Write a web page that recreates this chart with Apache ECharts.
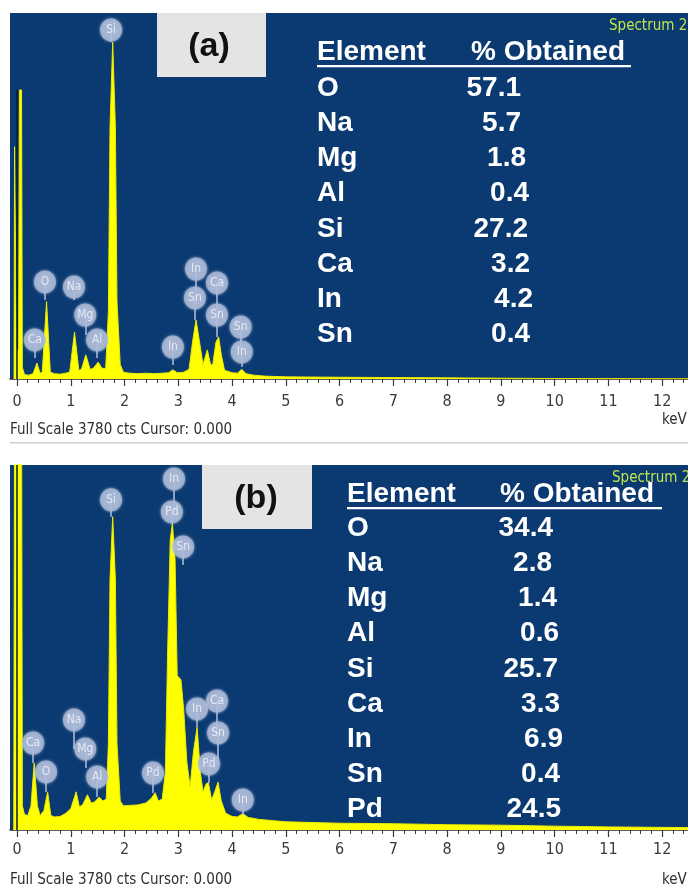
<!DOCTYPE html>
<html><head><meta charset="utf-8">
<script src="https://cdn.jsdelivr.net/npm/echarts@6/dist/echarts.min.js"></script>
<style>html,body{margin:0;padding:0;background:#fff;} #c{width:688px;height:889px;}</style>
</head><body><div id="c"></div>
<script>
// ---------- DATA ----------
const fullScale = 3780;
const tickLabels = [0,1,2,3,4,5,6,7,8,9,10,11,12];
const minorTicks = [];
for (let i = 0; i <= 62; i++) { if (i % 5 !== 0) minorTicks.push(+(i * 0.2).toFixed(1)); }

// Spectrum (a): energy (keV) and counts
const keVA = [-0.055,-0.045,-0.02,-0.01,0.03,0.045,0.085,0.10,0.14,0.22,0.30,0.37,0.43,0.47,0.55,0.62,0.70,0.80,0.90,0.98,1.07,1.15,1.20,1.28,1.36,1.42,1.51,1.58,1.65,1.70,1.73,1.78,1.83,1.86,1.92,1.98,2.10,2.25,2.40,2.55,2.70,2.82,2.90,2.98,3.10,3.20,3.27,3.33,3.39,3.46,3.54,3.60,3.64,3.70,3.75,3.80,3.86,4.00,4.10,4.18,4.26,4.40,4.60,5.00,6.00,7.00,8.00,9.00,10.00,12.48];
const ctsA = [0,2400,2400,300,300,2985,2985,120,45,40,55,165,60,70,800,70,55,50,60,70,485,90,100,250,100,110,175,110,110,700,2600,3480,2600,800,150,70,60,55,60,55,60,65,95,65,70,100,400,610,400,150,300,150,145,380,435,250,90,65,60,100,55,40,30,22,18,15,12,8,5,3];
const cursorTopA = 2985;

// Spectrum (b)
const keVB = [-0.06,-0.045,0.085,0.10,0.14,0.20,0.26,0.32,0.38,0.43,0.50,0.57,0.63,0.70,0.80,0.90,1.00,1.10,1.16,1.22,1.31,1.38,1.44,1.53,1.60,1.66,1.70,1.73,1.78,1.83,1.86,1.92,1.98,2.10,2.25,2.40,2.50,2.57,2.63,2.70,2.76,2.80,2.85,2.89,2.94,2.98,3.05,3.10,3.16,3.22,3.28,3.35,3.41,3.46,3.52,3.56,3.62,3.68,3.74,3.80,3.88,4.00,4.10,4.20,4.30,4.50,5.00,6.00,7.00,8.00,9.00,10.00,11.00,12.48];
const ctsB = [0,4500,4500,250,160,150,250,695,250,150,200,395,150,135,140,170,220,395,240,260,365,280,290,340,300,320,900,2600,3245,2600,900,300,250,255,260,280,330,385,300,320,600,1800,3000,3180,2800,1600,1555,1250,700,445,800,1065,600,395,480,490,310,400,495,300,175,140,135,170,130,110,85,70,65,55,50,40,32,25];
const cursorTopB = 3780;

// Peak labels: element, energy, bubble height (cts), stem end (cts)
const peakNamesA = ['Si','O','Na','Mg','Al','Ca','In','In','Sn','Ca','Sn','Sn','In'];
const peakKeVA   = [1.75,0.52,1.06,1.27,1.49,0.33,2.90,3.33,3.31,3.72,3.72,4.16,4.18];
const peakPosA   = [3605,1002,950,661,403,403,330,1136,837,992,661,537,279];
const peakStemA  = [3480,816,816,455,217,217,145,837,610,661,434,279,124];

const peakNamesB = ['Si','In','Pd','Sn','Ca','O','Na','Mg','Al','Pd','In','Ca','Sn','Pd','In'];
const peakKeVB   = [1.75,2.92,2.88,3.09,0.30,0.54,1.06,1.27,1.49,2.53,3.35,3.72,3.74,3.57,4.20];
const peakPosB   = [3419,3636,3294,2932,901,601,1140,839,549,590,1254,1336,1005,684,311];
const peakStemB  = [3243,3294,3180,2745,694,394,839,642,342,383,1067,1005,684,487,155];

// Composition tables
const elementsA = ['O','Na','Mg','Al','Si','Ca','In','Sn'];
const percentA  = ['57.1','5.7','1.8','0.4','27.2','3.2','4.2','0.4'];
const elementsB = ['O','Na','Mg','Al','Si','Ca','In','Sn','Pd'];
const percentB  = ['34.4','2.8','1.4','0.6','25.7','3.3','6.9','0.4','24.5'];

// ---------- LAYOUT ----------
const narrow = "'Liberation Sans Narrow','Arial Narrow','DejaVu Sans Condensed',sans-serif";
const bold = "'Liberation Sans',Arial,sans-serif";
const panels = [
  {top:13, height:366, labelMargin:15, label:'(a)', box:[157,13,109,64], boxText:[209,47],
   hdrY:52, elX:317, obtX:471, ulEnd:631, row0:88, valRight:[521,521,526,529,528,530,533,530],
   specY:26, specX:609, fsY:430, kevY:420, lineY:442},
  {top:465, height:365, labelMargin:12, label:'(b)', box:[202,465,110,64], boxText:[256,499],
   hdrY:494, elX:347, obtX:500, ulEnd:662, row0:528, valRight:[553,552,557,559,558,560,563,560,561],
   specY:478, specX:612, fsY:880, kevY:880, lineY:null}
];
const rowStep = 35.2;

const grids = [], xAxes = [], yAxes = [], series = [], graphics = [];
const specs = [[keVA, ctsA, cursorTopA],[keVB, ctsB, cursorTopB]];
const peaks = [[peakNamesA,peakKeVA,peakPosA,peakStemA],[peakNamesB,peakKeVB,peakPosB,peakStemB]];
const tables = [[elementsA,percentA],[elementsB,percentB]];

panels.forEach((p, i) => {
  grids.push({left:10, top:p.top, width:678, height:p.height, show:true, backgroundColor:'#0b3a72', borderWidth:0});
  xAxes.push({gridIndex:i, type:'value', min:-0.13, max:12.48, position:'bottom',
    axisLine:{show:true, onZero:false, lineStyle:{color:'#2b2b2b', width:1.5}},
    axisTick:{show:true, customValues:tickLabels, length:7, lineStyle:{color:'#3a3a3a', width:1.2}},
    axisLabel:{show:true, customValues:tickLabels, margin:p.labelMargin, color:'#3a3a3a', fontSize:16, fontFamily:narrow},
    splitLine:{show:false}});
  xAxes.push({gridIndex:i, type:'value', min:-0.13, max:12.48, position:'bottom',
    axisLine:{show:false, onZero:false},
    axisTick:{show:true, customValues:minorTicks, length:4, lineStyle:{color:'#3a3a3a', width:1}},
    axisLabel:{show:false}, splitLine:{show:false}});
  yAxes.push({gridIndex:i, type:'value', min:0, max:fullScale, show:false, splitLine:{show:false}});

  const [kx, cy, ctop] = specs[i];
  series.push({type:'line', xAxisIndex:2*i, yAxisIndex:i, data:kx.map((k,j)=>[k, cy[j]]),
    showSymbol:false, symbol:'none', clip:true, z:2,
    lineStyle:{color:'#eaea00', width:1}, areaStyle:{color:'#ffff00', opacity:1},
    markLine:{silent:true, symbol:'none', label:{show:false}, lineStyle:{color:'#0a1a33', width:1.5, type:'solid'},
      data:[[{coord:[0,0]},{coord:[0,ctop]}]]}
  });
  const [nm, pk, py, ps] = peaks[i];
  series.push({type:'lines', coordinateSystem:'cartesian2d', xAxisIndex:2*i, yAxisIndex:i, z:3,
    lineStyle:{color:'#b3c1dc', width:1.5, opacity:1},
    data:nm.map((n,j)=>({coords:[[pk[j], py[j]],[pk[j], ps[j]]]}))});
  series.push({type:'scatter', xAxisIndex:2*i, yAxisIndex:i, z:4, symbol:'circle', symbolSize:[22,23],
    itemStyle:{color:'#a8b7d5', shadowBlur:3, shadowColor:'rgba(210,220,240,0.9)'},
    label:{show:true, position:'inside', formatter:'{b}', color:'#f4f7fc', fontSize:12, fontFamily:narrow},
    data:nm.map((n,j)=>({name:n, value:[pk[j], py[j]]}))});

  graphics.push({type:'rect', z:100, shape:{x:p.box[0], y:p.box[1], width:p.box[2], height:p.box[3]}, style:{fill:'#e4e4e4'}});
  graphics.push({type:'text', z:101, x:p.boxText[0], y:p.boxText[1], style:{text:p.label, font:'bold 34px '+bold, fill:'#111', textAlign:'center', textVerticalAlign:'middle'}});
  graphics.push({type:'text', z:101, x:p.specX, y:p.specY, style:{text:'Spectrum 2', font:'15px '+narrow, fill:'#bfe64a', textAlign:'left', textVerticalAlign:'middle'}});
  graphics.push({type:'text', z:101, x:p.elX, y:p.hdrY, style:{text:'Element', font:'bold 28px '+bold, fill:'#fff', textAlign:'left', textVerticalAlign:'middle'}});
  graphics.push({type:'text', z:101, x:p.obtX, y:p.hdrY, style:{text:'% Obtained', font:'bold 28px '+bold, fill:'#fff', textAlign:'left', textVerticalAlign:'middle'}});
  graphics.push({type:'rect', z:101, shape:{x:p.elX, y:p.hdrY+13, width:p.ulEnd-p.elX, height:2.2}, style:{fill:'#fff'}});
  const [els, pcs] = tables[i];
  els.forEach((e,j)=>{
    const y = p.row0 + j*rowStep;
    graphics.push({type:'text', z:101, x:p.elX, y:y, style:{text:e, font:'bold 28px '+bold, fill:'#fff', textAlign:'left', textVerticalAlign:'middle'}});
    graphics.push({type:'text', z:101, x:p.valRight[j], y:y, style:{text:pcs[j], font:'bold 28px '+bold, fill:'#fff', textAlign:'right', textVerticalAlign:'middle'}});
  });
  graphics.push({type:'text', z:101, x:10, y:p.fsY, style:{text:'Full Scale 3780 cts Cursor: 0.000', font:'15px '+narrow, fill:'#2e2e2e', textAlign:'left', textVerticalAlign:'middle'}});
  graphics.push({type:'text', z:101, x:662, y:p.kevY, style:{text:'keV', font:'15px '+narrow, fill:'#2e2e2e', textAlign:'left', textVerticalAlign:'middle'}});
  if (p.lineY) graphics.push({type:'rect', z:101, shape:{x:10, y:p.lineY, width:678, height:1.5}, style:{fill:'#cfcfcf'}});
});

const chart = echarts.init(document.getElementById('c'), null, {renderer:'canvas'});
chart.setOption({animation:false, backgroundColor:'#ffffff', grid:grids, xAxis:xAxes, yAxis:yAxes, series:series, graphic:graphics});
</script></body></html>
